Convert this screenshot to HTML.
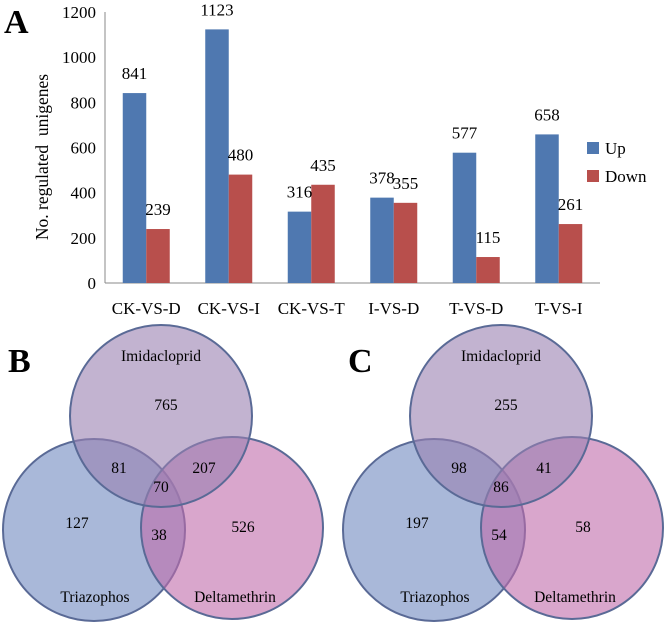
<!DOCTYPE html>
<html><head><meta charset="utf-8"><style>
body{margin:0;background:#fff}
svg{display:block;font-family:"Liberation Serif",serif}
</style></head><body>
<svg width="666" height="624" viewBox="0 0 666 624">
<text x="4" y="33" font-size="34" font-weight="bold">A</text>
<g id="chart"></g>
<text transform="translate(48,157) rotate(-90)" text-anchor="middle" font-size="17.5">No. regulated &#160;unigenes</text>
<g>
<rect x="587" y="142" width="12" height="12" fill="#4f78b0"/>
<text x="605" y="154" font-size="17">Up</text>
<rect x="587" y="170" width="12" height="12" fill="#b84f4c"/>
<text x="605" y="182" font-size="17">Down</text>
</g>
<g id="venns"></g>
</svg>
<script>
const categories=["CK-VS-D","CK-VS-I","CK-VS-T","I-VS-D","T-VS-D","T-VS-I"];
const upValues=[841,1123,316,378,577,658];
const downValues=[239,480,435,355,115,261];
const yTicks=[0,200,400,600,800,1000,1200];
const vennB=["765","81","207","70","127","38","526"];
const vennC=["255","98","41","86","197","54","58"];
const NS="http://www.w3.org/2000/svg";
const x0=105,x1=600,y0=283,y1=12,ymax=1200;
const band=(x1-x0)/categories.length;
const yS=v=>y0-(v/ymax)*(y0-y1);
const g=document.getElementById('chart');
function mk(t,a,p){const e=document.createElementNS(NS,t);for(const k in a)e.setAttribute(k,a[k]);(p||g).appendChild(e);return e;}
let ax=mk('line',{x1:x0,y1:y1,x2:x0,y2:y0,stroke:'#888','stroke-width':1});


let bx=mk('line',{x1:x0,y1:y0,x2:x1,y2:y0,stroke:'#888','stroke-width':1});


yTicks.forEach(v=>{const t=mk('text',{x:x0-9,y:yS(v)+6,'text-anchor':'end','font-size':17});t.textContent=v;

});
categories.forEach((c,i)=>{
 const cx=x0+band*(i+0.5),w=23.5;
 const b1=mk('rect',{x:cx-w,y:yS(upValues[i]),width:w,height:y0-yS(upValues[i]),fill:'#4f78b0'});
 
 
 const b2=mk('rect',{x:cx,y:yS(downValues[i]),width:w,height:y0-yS(downValues[i]),fill:'#b84f4c'});
 
 
 const l1=mk('text',{x:cx-w/2,y:yS(upValues[i])-14,'text-anchor':'middle','font-size':17});l1.textContent=upValues[i];
 
 
 const l2=mk('text',{x:cx+w/2,y:yS(downValues[i])-14,'text-anchor':'middle','font-size':17});l2.textContent=downValues[i];
 
 
 const xl=mk('text',{x:cx,y:y0+31,'text-anchor':'middle','font-size':17});xl.textContent=c;
 
 
});
const vg=document.getElementById('venns');
function venn(ox,letter,vals,name){
 const gg=mk('g',{},vg);
 
 
 const st={stroke:'#5a6a96','stroke-width':2,'fill-opacity':0.6};
 const c1=mk('circle',Object.assign({cx:ox+94,cy:530,r:91,fill:'#7088c0'},st),gg);
 
 
 const c2=mk('circle',Object.assign({cx:ox+232,cy:528,r:91,fill:'#c06aaa'},st),gg);
 
 
 const c3=mk('circle',Object.assign({cx:ox+161,cy:416,r:91,fill:'#9a80b0'},st),gg);
 
 
 const L=mk('text',{x:ox+8,y:372,'font-size':34,'font-weight':'bold'},gg);L.textContent=letter;
 
 
 const labs=[["Imidacloprid",161,361],["Triazophos",95,602],["Deltamethrin",235,602]];
 labs.forEach(a=>{const t=mk('text',{x:ox+a[1],y:a[2],'text-anchor':'middle','font-size':15.5},gg);t.textContent=a[0];
 
 });
 const pos=[[166,410],[119,473],[204,473],[161,492],[77,528],[159,540],[243,532]];
 vals.forEach((v,i)=>{const t=mk('text',{x:ox+pos[i][0],y:pos[i][1],'text-anchor':'middle','font-size':15.5},gg);t.textContent=v;
 
 });
}
venn(0,'B',vennB,'venn-b');
venn(340,'C',vennC,'venn-c');
</script>
</body></html>
